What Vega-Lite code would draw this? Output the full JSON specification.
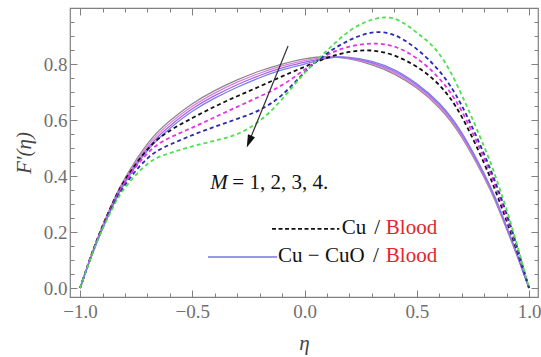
{
  "$schema": "https://vega.github.io/schema/vega-lite/v6.json",
  "width": 468,
  "height": 289,
  "autosize": {"type": "none"},
  "padding": {"left": 70, "top": 8, "right": 3, "bottom": 60},
  "background": "white",
  "config": {
    "view": {"stroke": "#808080", "strokeWidth": 1.2},
    "axis": {"labelFont": "'Liberation Serif', 'Times New Roman', 'DejaVu Serif', serif", "labelFontSize": 19, "labelColor": "#707070", "titleFont": "'Liberation Serif', 'Times New Roman', 'DejaVu Serif', serif", "titleFontSize": 21, "titleFontStyle": "italic", "titleFontWeight": "normal", "titleColor": "#444444", "grid": false, "domain": false, "tickColor": "#808080", "labelFlush": false, "labelOverlap": false, "labelBound": false},
    "text": {"font": "'Liberation Serif', 'Times New Roman', 'DejaVu Serif', serif"}
  },
  "datasets": {
    "curves": [
      {"fluid":"Cu-CuO","series":"Cu-CuO M=1","eta":-1,"F":0},{"fluid":"Cu-CuO","series":"Cu-CuO M=1","eta":-0.95,"F":0.118},{"fluid":"Cu-CuO","series":"Cu-CuO M=1","eta":-0.9,"F":0.222},{"fluid":"Cu-CuO","series":"Cu-CuO M=1","eta":-0.85,"F":0.314},{"fluid":"Cu-CuO","series":"Cu-CuO M=1","eta":-0.8,"F":0.393},{"fluid":"Cu-CuO","series":"Cu-CuO M=1","eta":-0.7,"F":0.515},{"fluid":"Cu-CuO","series":"Cu-CuO M=1","eta":-0.6,"F":0.597},{"fluid":"Cu-CuO","series":"Cu-CuO M=1","eta":-0.5,"F":0.658},{"fluid":"Cu-CuO","series":"Cu-CuO M=1","eta":-0.4,"F":0.705},{"fluid":"Cu-CuO","series":"Cu-CuO M=1","eta":-0.3,"F":0.743},{"fluid":"Cu-CuO","series":"Cu-CuO M=1","eta":-0.2,"F":0.775},{"fluid":"Cu-CuO","series":"Cu-CuO M=1","eta":-0.1,"F":0.8},{"fluid":"Cu-CuO","series":"Cu-CuO M=1","eta":0,"F":0.818},{"fluid":"Cu-CuO","series":"Cu-CuO M=1","eta":0.1,"F":0.826},{"fluid":"Cu-CuO","series":"Cu-CuO M=1","eta":0.2,"F":0.818},{"fluid":"Cu-CuO","series":"Cu-CuO M=1","eta":0.3,"F":0.797},{"fluid":"Cu-CuO","series":"Cu-CuO M=1","eta":0.4,"F":0.764},{"fluid":"Cu-CuO","series":"Cu-CuO M=1","eta":0.5,"F":0.714},{"fluid":"Cu-CuO","series":"Cu-CuO M=1","eta":0.6,"F":0.644},{"fluid":"Cu-CuO","series":"Cu-CuO M=1","eta":0.7,"F":0.539},{"fluid":"Cu-CuO","series":"Cu-CuO M=1","eta":0.8,"F":0.395},{"fluid":"Cu-CuO","series":"Cu-CuO M=1","eta":0.85,"F":0.31},{"fluid":"Cu-CuO","series":"Cu-CuO M=1","eta":0.9,"F":0.211},{"fluid":"Cu-CuO","series":"Cu-CuO M=1","eta":0.95,"F":0.108},{"fluid":"Cu-CuO","series":"Cu-CuO M=1","eta":1,"F":0},
      {"fluid":"Cu-CuO","series":"Cu-CuO M=2","eta":-1,"F":0},{"fluid":"Cu-CuO","series":"Cu-CuO M=2","eta":-0.95,"F":0.116},{"fluid":"Cu-CuO","series":"Cu-CuO M=2","eta":-0.9,"F":0.219},{"fluid":"Cu-CuO","series":"Cu-CuO M=2","eta":-0.85,"F":0.31},{"fluid":"Cu-CuO","series":"Cu-CuO M=2","eta":-0.8,"F":0.388},{"fluid":"Cu-CuO","series":"Cu-CuO M=2","eta":-0.7,"F":0.507},{"fluid":"Cu-CuO","series":"Cu-CuO M=2","eta":-0.6,"F":0.588},{"fluid":"Cu-CuO","series":"Cu-CuO M=2","eta":-0.5,"F":0.649},{"fluid":"Cu-CuO","series":"Cu-CuO M=2","eta":-0.4,"F":0.696},{"fluid":"Cu-CuO","series":"Cu-CuO M=2","eta":-0.3,"F":0.735},{"fluid":"Cu-CuO","series":"Cu-CuO M=2","eta":-0.2,"F":0.767},{"fluid":"Cu-CuO","series":"Cu-CuO M=2","eta":-0.1,"F":0.793},{"fluid":"Cu-CuO","series":"Cu-CuO M=2","eta":0,"F":0.812},{"fluid":"Cu-CuO","series":"Cu-CuO M=2","eta":0.1,"F":0.824},{"fluid":"Cu-CuO","series":"Cu-CuO M=2","eta":0.2,"F":0.82},{"fluid":"Cu-CuO","series":"Cu-CuO M=2","eta":0.3,"F":0.801},{"fluid":"Cu-CuO","series":"Cu-CuO M=2","eta":0.4,"F":0.769},{"fluid":"Cu-CuO","series":"Cu-CuO M=2","eta":0.5,"F":0.719},{"fluid":"Cu-CuO","series":"Cu-CuO M=2","eta":0.6,"F":0.649},{"fluid":"Cu-CuO","series":"Cu-CuO M=2","eta":0.7,"F":0.544},{"fluid":"Cu-CuO","series":"Cu-CuO M=2","eta":0.8,"F":0.399},{"fluid":"Cu-CuO","series":"Cu-CuO M=2","eta":0.85,"F":0.314},{"fluid":"Cu-CuO","series":"Cu-CuO M=2","eta":0.9,"F":0.214},{"fluid":"Cu-CuO","series":"Cu-CuO M=2","eta":0.95,"F":0.11},{"fluid":"Cu-CuO","series":"Cu-CuO M=2","eta":1,"F":0},
      {"fluid":"Cu-CuO","series":"Cu-CuO M=3","eta":-1,"F":0},{"fluid":"Cu-CuO","series":"Cu-CuO M=3","eta":-0.95,"F":0.114},{"fluid":"Cu-CuO","series":"Cu-CuO M=3","eta":-0.9,"F":0.215},{"fluid":"Cu-CuO","series":"Cu-CuO M=3","eta":-0.85,"F":0.305},{"fluid":"Cu-CuO","series":"Cu-CuO M=3","eta":-0.8,"F":0.382},{"fluid":"Cu-CuO","series":"Cu-CuO M=3","eta":-0.7,"F":0.499},{"fluid":"Cu-CuO","series":"Cu-CuO M=3","eta":-0.6,"F":0.579},{"fluid":"Cu-CuO","series":"Cu-CuO M=3","eta":-0.5,"F":0.64},{"fluid":"Cu-CuO","series":"Cu-CuO M=3","eta":-0.4,"F":0.687},{"fluid":"Cu-CuO","series":"Cu-CuO M=3","eta":-0.3,"F":0.726},{"fluid":"Cu-CuO","series":"Cu-CuO M=3","eta":-0.2,"F":0.759},{"fluid":"Cu-CuO","series":"Cu-CuO M=3","eta":-0.1,"F":0.786},{"fluid":"Cu-CuO","series":"Cu-CuO M=3","eta":0,"F":0.806},{"fluid":"Cu-CuO","series":"Cu-CuO M=3","eta":0.1,"F":0.822},{"fluid":"Cu-CuO","series":"Cu-CuO M=3","eta":0.2,"F":0.822},{"fluid":"Cu-CuO","series":"Cu-CuO M=3","eta":0.3,"F":0.805},{"fluid":"Cu-CuO","series":"Cu-CuO M=3","eta":0.4,"F":0.774},{"fluid":"Cu-CuO","series":"Cu-CuO M=3","eta":0.5,"F":0.724},{"fluid":"Cu-CuO","series":"Cu-CuO M=3","eta":0.6,"F":0.655},{"fluid":"Cu-CuO","series":"Cu-CuO M=3","eta":0.7,"F":0.55},{"fluid":"Cu-CuO","series":"Cu-CuO M=3","eta":0.8,"F":0.404},{"fluid":"Cu-CuO","series":"Cu-CuO M=3","eta":0.85,"F":0.318},{"fluid":"Cu-CuO","series":"Cu-CuO M=3","eta":0.9,"F":0.217},{"fluid":"Cu-CuO","series":"Cu-CuO M=3","eta":0.95,"F":0.112},{"fluid":"Cu-CuO","series":"Cu-CuO M=3","eta":1,"F":0},
      {"fluid":"Cu-CuO","series":"Cu-CuO M=4","eta":-1,"F":0},{"fluid":"Cu-CuO","series":"Cu-CuO M=4","eta":-0.95,"F":0.112},{"fluid":"Cu-CuO","series":"Cu-CuO M=4","eta":-0.9,"F":0.211},{"fluid":"Cu-CuO","series":"Cu-CuO M=4","eta":-0.85,"F":0.3},{"fluid":"Cu-CuO","series":"Cu-CuO M=4","eta":-0.8,"F":0.376},{"fluid":"Cu-CuO","series":"Cu-CuO M=4","eta":-0.7,"F":0.491},{"fluid":"Cu-CuO","series":"Cu-CuO M=4","eta":-0.6,"F":0.57},{"fluid":"Cu-CuO","series":"Cu-CuO M=4","eta":-0.5,"F":0.631},{"fluid":"Cu-CuO","series":"Cu-CuO M=4","eta":-0.4,"F":0.678},{"fluid":"Cu-CuO","series":"Cu-CuO M=4","eta":-0.3,"F":0.717},{"fluid":"Cu-CuO","series":"Cu-CuO M=4","eta":-0.2,"F":0.751},{"fluid":"Cu-CuO","series":"Cu-CuO M=4","eta":-0.1,"F":0.779},{"fluid":"Cu-CuO","series":"Cu-CuO M=4","eta":0,"F":0.8},{"fluid":"Cu-CuO","series":"Cu-CuO M=4","eta":0.1,"F":0.82},{"fluid":"Cu-CuO","series":"Cu-CuO M=4","eta":0.2,"F":0.824},{"fluid":"Cu-CuO","series":"Cu-CuO M=4","eta":0.3,"F":0.809},{"fluid":"Cu-CuO","series":"Cu-CuO M=4","eta":0.4,"F":0.779},{"fluid":"Cu-CuO","series":"Cu-CuO M=4","eta":0.5,"F":0.729},{"fluid":"Cu-CuO","series":"Cu-CuO M=4","eta":0.6,"F":0.66},{"fluid":"Cu-CuO","series":"Cu-CuO M=4","eta":0.7,"F":0.555},{"fluid":"Cu-CuO","series":"Cu-CuO M=4","eta":0.8,"F":0.409},{"fluid":"Cu-CuO","series":"Cu-CuO M=4","eta":0.85,"F":0.322},{"fluid":"Cu-CuO","series":"Cu-CuO M=4","eta":0.9,"F":0.22},{"fluid":"Cu-CuO","series":"Cu-CuO M=4","eta":0.95,"F":0.114},{"fluid":"Cu-CuO","series":"Cu-CuO M=4","eta":1,"F":0},
      {"fluid":"Cu","series":"Cu M=1","eta":-1,"F":0},{"fluid":"Cu","series":"Cu M=1","eta":-0.95,"F":0.118},{"fluid":"Cu","series":"Cu M=1","eta":-0.9,"F":0.222},{"fluid":"Cu","series":"Cu M=1","eta":-0.85,"F":0.312},{"fluid":"Cu","series":"Cu M=1","eta":-0.8,"F":0.386},{"fluid":"Cu","series":"Cu M=1","eta":-0.7,"F":0.495},{"fluid":"Cu","series":"Cu M=1","eta":-0.6,"F":0.562},{"fluid":"Cu","series":"Cu M=1","eta":-0.5,"F":0.607},{"fluid":"Cu","series":"Cu M=1","eta":-0.4,"F":0.648},{"fluid":"Cu","series":"Cu M=1","eta":-0.3,"F":0.685},{"fluid":"Cu","series":"Cu M=1","eta":-0.2,"F":0.72},{"fluid":"Cu","series":"Cu M=1","eta":-0.1,"F":0.756},{"fluid":"Cu","series":"Cu M=1","eta":0,"F":0.79},{"fluid":"Cu","series":"Cu M=1","eta":0.1,"F":0.822},{"fluid":"Cu","series":"Cu M=1","eta":0.2,"F":0.843},{"fluid":"Cu","series":"Cu M=1","eta":0.3,"F":0.848},{"fluid":"Cu","series":"Cu M=1","eta":0.4,"F":0.83},{"fluid":"Cu","series":"Cu M=1","eta":0.5,"F":0.79},{"fluid":"Cu","series":"Cu M=1","eta":0.6,"F":0.725},{"fluid":"Cu","series":"Cu M=1","eta":0.7,"F":0.612},{"fluid":"Cu","series":"Cu M=1","eta":0.8,"F":0.445},{"fluid":"Cu","series":"Cu M=1","eta":0.85,"F":0.348},{"fluid":"Cu","series":"Cu M=1","eta":0.9,"F":0.24},{"fluid":"Cu","series":"Cu M=1","eta":0.95,"F":0.124},{"fluid":"Cu","series":"Cu M=1","eta":1,"F":0},
      {"fluid":"Cu","series":"Cu M=2","eta":-1,"F":0},{"fluid":"Cu","series":"Cu M=2","eta":-0.95,"F":0.116},{"fluid":"Cu","series":"Cu M=2","eta":-0.9,"F":0.218},{"fluid":"Cu","series":"Cu M=2","eta":-0.85,"F":0.306},{"fluid":"Cu","series":"Cu M=2","eta":-0.8,"F":0.378},{"fluid":"Cu","series":"Cu M=2","eta":-0.7,"F":0.481},{"fluid":"Cu","series":"Cu M=2","eta":-0.6,"F":0.537},{"fluid":"Cu","series":"Cu M=2","eta":-0.5,"F":0.573},{"fluid":"Cu","series":"Cu M=2","eta":-0.4,"F":0.61},{"fluid":"Cu","series":"Cu M=2","eta":-0.3,"F":0.647},{"fluid":"Cu","series":"Cu M=2","eta":-0.2,"F":0.684},{"fluid":"Cu","series":"Cu M=2","eta":-0.1,"F":0.725},{"fluid":"Cu","series":"Cu M=2","eta":0,"F":0.78},{"fluid":"Cu","series":"Cu M=2","eta":0.1,"F":0.832},{"fluid":"Cu","series":"Cu M=2","eta":0.2,"F":0.862},{"fluid":"Cu","series":"Cu M=2","eta":0.3,"F":0.873},{"fluid":"Cu","series":"Cu M=2","eta":0.4,"F":0.862},{"fluid":"Cu","series":"Cu M=2","eta":0.5,"F":0.82},{"fluid":"Cu","series":"Cu M=2","eta":0.6,"F":0.748},{"fluid":"Cu","series":"Cu M=2","eta":0.7,"F":0.632},{"fluid":"Cu","series":"Cu M=2","eta":0.8,"F":0.463},{"fluid":"Cu","series":"Cu M=2","eta":0.85,"F":0.365},{"fluid":"Cu","series":"Cu M=2","eta":0.9,"F":0.254},{"fluid":"Cu","series":"Cu M=2","eta":0.95,"F":0.131},{"fluid":"Cu","series":"Cu M=2","eta":1,"F":0},
      {"fluid":"Cu","series":"Cu M=3","eta":-1,"F":0},{"fluid":"Cu","series":"Cu M=3","eta":-0.95,"F":0.115},{"fluid":"Cu","series":"Cu M=3","eta":-0.9,"F":0.215},{"fluid":"Cu","series":"Cu M=3","eta":-0.85,"F":0.3},{"fluid":"Cu","series":"Cu M=3","eta":-0.8,"F":0.368},{"fluid":"Cu","series":"Cu M=3","eta":-0.7,"F":0.463},{"fluid":"Cu","series":"Cu M=3","eta":-0.6,"F":0.512},{"fluid":"Cu","series":"Cu M=3","eta":-0.5,"F":0.546},{"fluid":"Cu","series":"Cu M=3","eta":-0.4,"F":0.576},{"fluid":"Cu","series":"Cu M=3","eta":-0.3,"F":0.604},{"fluid":"Cu","series":"Cu M=3","eta":-0.2,"F":0.636},{"fluid":"Cu","series":"Cu M=3","eta":-0.1,"F":0.69},{"fluid":"Cu","series":"Cu M=3","eta":0,"F":0.77},{"fluid":"Cu","series":"Cu M=3","eta":0.1,"F":0.838},{"fluid":"Cu","series":"Cu M=3","eta":0.2,"F":0.885},{"fluid":"Cu","series":"Cu M=3","eta":0.3,"F":0.912},{"fluid":"Cu","series":"Cu M=3","eta":0.4,"F":0.903},{"fluid":"Cu","series":"Cu M=3","eta":0.5,"F":0.853},{"fluid":"Cu","series":"Cu M=3","eta":0.6,"F":0.775},{"fluid":"Cu","series":"Cu M=3","eta":0.7,"F":0.652},{"fluid":"Cu","series":"Cu M=3","eta":0.8,"F":0.478},{"fluid":"Cu","series":"Cu M=3","eta":0.85,"F":0.378},{"fluid":"Cu","series":"Cu M=3","eta":0.9,"F":0.266},{"fluid":"Cu","series":"Cu M=3","eta":0.95,"F":0.138},{"fluid":"Cu","series":"Cu M=3","eta":1,"F":0},
      {"fluid":"Cu","series":"Cu M=4","eta":-1,"F":0},{"fluid":"Cu","series":"Cu M=4","eta":-0.95,"F":0.113},{"fluid":"Cu","series":"Cu M=4","eta":-0.9,"F":0.211},{"fluid":"Cu","series":"Cu M=4","eta":-0.85,"F":0.293},{"fluid":"Cu","series":"Cu M=4","eta":-0.8,"F":0.358},{"fluid":"Cu","series":"Cu M=4","eta":-0.7,"F":0.443},{"fluid":"Cu","series":"Cu M=4","eta":-0.6,"F":0.482},{"fluid":"Cu","series":"Cu M=4","eta":-0.5,"F":0.506},{"fluid":"Cu","series":"Cu M=4","eta":-0.4,"F":0.526},{"fluid":"Cu","series":"Cu M=4","eta":-0.3,"F":0.55},{"fluid":"Cu","series":"Cu M=4","eta":-0.2,"F":0.597},{"fluid":"Cu","series":"Cu M=4","eta":-0.1,"F":0.675},{"fluid":"Cu","series":"Cu M=4","eta":0,"F":0.768},{"fluid":"Cu","series":"Cu M=4","eta":0.1,"F":0.848},{"fluid":"Cu","series":"Cu M=4","eta":0.2,"F":0.918},{"fluid":"Cu","series":"Cu M=4","eta":0.3,"F":0.958},{"fluid":"Cu","series":"Cu M=4","eta":0.4,"F":0.962},{"fluid":"Cu","series":"Cu M=4","eta":0.5,"F":0.912},{"fluid":"Cu","series":"Cu M=4","eta":0.6,"F":0.836},{"fluid":"Cu","series":"Cu M=4","eta":0.7,"F":0.69},{"fluid":"Cu","series":"Cu M=4","eta":0.8,"F":0.505},{"fluid":"Cu","series":"Cu M=4","eta":0.85,"F":0.4},{"fluid":"Cu","series":"Cu M=4","eta":0.9,"F":0.28},{"fluid":"Cu","series":"Cu M=4","eta":0.95,"F":0.145},{"fluid":"Cu","series":"Cu M=4","eta":1,"F":0}
    ]
  },
  "data": {"name": "curves"},
  "resolve": {"axis": {"x": "independent", "y": "independent"}},
  "layer": [
    {
      "transform": [{"filter": "datum.fluid === 'Cu-CuO'"}],
      "mark": {"type": "line", "interpolate": "natural", "strokeWidth": 1.3},
      "encoding": {
        "x": {"field": "eta", "type": "quantitative", "scale": {"domain": [-1.045, 1.04], "nice": false, "zero": false},
              "axis": {"orient": "bottom", "values": [-1, -0.5, 0, 0.5, 1], "format": ".1f", "ticks": false, "labelPadding": 5, "title": "η", "titlePadding": 11}},
        "y": {"field": "F", "type": "quantitative", "scale": {"domain": [-0.032, 1.0], "nice": false, "zero": false},
              "axis": {"orient": "left", "values": [0, 0.2, 0.4, 0.6, 0.8], "format": ".1f", "ticks": false, "labelPadding": 3, "title": "F′(η)", "titlePadding": 9}},
        "color": {"field": "series", "type": "nominal", "legend": null,
                  "scale": {"domain": ["Cu-CuO M=1", "Cu-CuO M=2", "Cu-CuO M=3", "Cu-CuO M=4", "Cu M=1", "Cu M=2", "Cu M=3", "Cu M=4"],
                            "range": ["#8a8a8a", "#e07be0", "#a468e0", "#7d7df2", "#111111", "#e632e6", "#2b2bb0", "#4fe04f"]}}
      }
    },
    {
      "transform": [{"filter": "datum.fluid === 'Cu'"}],
      "mark": {"type": "line", "interpolate": "natural", "strokeWidth": 1.8, "strokeDash": [4, 3]},
      "encoding": {
        "x": {"field": "eta", "type": "quantitative", "axis": {"orient": "bottom", "values": [-1, -0.5, 0, 0.5, 1], "labels": false, "tickSize": -7, "title": null}},
        "y": {"field": "F", "type": "quantitative", "axis": {"orient": "left", "values": [0, 0.2, 0.4, 0.6, 0.8], "labels": false, "tickSize": -7, "title": null}},
        "color": {"field": "series", "type": "nominal", "legend": null}
      }
    },
    {
      "mark": {"type": "point", "opacity": 0},
      "encoding": {
        "x": {"field": "eta", "type": "quantitative", "axis": {"orient": "bottom", "values": [-0.9, -0.8, -0.7, -0.6, -0.4, -0.3, -0.2, -0.1, 0.1, 0.2, 0.3, 0.4, 0.6, 0.7, 0.8, 0.9], "labels": false, "tickSize": -4, "title": null}},
        "y": {"field": "F", "type": "quantitative", "axis": {"orient": "left", "values": [0.05, 0.1, 0.15, 0.25, 0.3, 0.35, 0.45, 0.5, 0.55, 0.65, 0.7, 0.75, 0.85, 0.9, 0.95], "labels": false, "tickSize": -4, "title": null}}
      }
    },
    {
      "mark": {"type": "point", "opacity": 0},
      "encoding": {
        "x": {"field": "eta", "type": "quantitative", "axis": {"orient": "top", "values": [-1, -0.5, 0, 0.5, 1], "labels": false, "tickSize": -7, "title": null}},
        "y": {"field": "F", "type": "quantitative", "axis": {"orient": "right", "values": [0, 0.2, 0.4, 0.6, 0.8], "labels": false, "tickSize": -7, "title": null}}
      }
    },
    {
      "mark": {"type": "point", "opacity": 0},
      "encoding": {
        "x": {"field": "eta", "type": "quantitative", "axis": {"orient": "top", "values": [-0.9, -0.8, -0.7, -0.6, -0.4, -0.3, -0.2, -0.1, 0.1, 0.2, 0.3, 0.4, 0.6, 0.7, 0.8, 0.9], "labels": false, "tickSize": -4, "title": null}},
        "y": {"field": "F", "type": "quantitative", "axis": {"orient": "right", "values": [0.05, 0.1, 0.15, 0.25, 0.3, 0.35, 0.45, 0.5, 0.55, 0.65, 0.7, 0.75, 0.85, 0.9, 0.95], "labels": false, "tickSize": -4, "title": null}}
      }
    },
    {
      "data": {"values": [{}]},
      "mark": {"type": "rule", "color": "#333333", "strokeWidth": 1.2},
      "encoding": {
        "x": {"datum": -0.0735, "type": "quantitative", "axis": null},
        "y": {"datum": 0.864, "type": "quantitative", "axis": null},
        "x2": {"datum": -0.247},
        "y2": {"datum": 0.523}
      }
    },
    {
      "data": {"values": [{}]},
      "mark": {"type": "point", "shape": "M-0.6,-1L0.6,-1L0,1Z", "size": 160, "filled": true, "color": "#111111", "opacity": 1, "angle": 22},
      "encoding": {
        "x": {"datum": -0.247, "type": "quantitative", "axis": null},
        "y": {"datum": 0.523, "type": "quantitative", "axis": null}
      }
    },
    {
      "data": {"values": [{}]},
      "mark": {"type": "text", "text": "M", "fontSize": 21, "fontStyle": "italic", "align": "left", "baseline": "middle", "color": "#111111"},
      "encoding": {
        "x": {"datum": -0.42, "type": "quantitative", "axis": null},
        "y": {"datum": 0.375, "type": "quantitative", "axis": null}
      }
    },
    {
      "data": {"values": [{}]},
      "mark": {"type": "text", "text": "=\u00a01,\u00a02,\u00a03,\u00a04.", "fontSize": 21, "align": "left", "baseline": "middle", "dx": 22, "color": "#111111"},
      "encoding": {
        "x": {"datum": -0.42, "type": "quantitative", "axis": null},
        "y": {"datum": 0.375, "type": "quantitative", "axis": null}
      }
    },
    {
      "data": {"values": [{}]},
      "mark": {"type": "rule", "color": "#111111", "strokeWidth": 1.8, "strokeDash": [4, 2.5]},
      "encoding": {
        "x": {"datum": -0.145, "type": "quantitative", "axis": null},
        "x2": {"datum": 0.155},
        "y": {"datum": 0.211, "type": "quantitative", "axis": null}
      }
    },
    {
      "data": {"values": [{}]},
      "mark": {"type": "rule", "color": "#7474e6", "strokeWidth": 1.5},
      "encoding": {
        "x": {"datum": -0.43, "type": "quantitative", "axis": null},
        "x2": {"datum": -0.122},
        "y": {"datum": 0.111, "type": "quantitative", "axis": null}
      }
    },
    {
      "data": {"values": [{"label": "Cu", "eta": 0.166, "F": 0.214}, {"label": "Cu − CuO", "eta": -0.118, "F": 0.114}, {"label": "/", "eta": 0.31, "F": 0.214}, {"label": "/", "eta": 0.305, "F": 0.114}]},
      "mark": {"type": "text", "fontSize": 21, "align": "left", "baseline": "middle", "color": "#111111"},
      "encoding": {
        "x": {"field": "eta", "type": "quantitative", "axis": null},
        "y": {"field": "F", "type": "quantitative", "axis": null},
        "text": {"field": "label"}
      }
    },
    {
      "data": {"values": [{"label": "Blood", "eta": 0.362, "F": 0.214}, {"label": "Blood", "eta": 0.362, "F": 0.114}]},
      "mark": {"type": "text", "fontSize": 21, "align": "left", "baseline": "middle", "color": "#e3262d"},
      "encoding": {
        "x": {"field": "eta", "type": "quantitative", "axis": null},
        "y": {"field": "F", "type": "quantitative", "axis": null},
        "text": {"field": "label"}
      }
    }
  ]
}
